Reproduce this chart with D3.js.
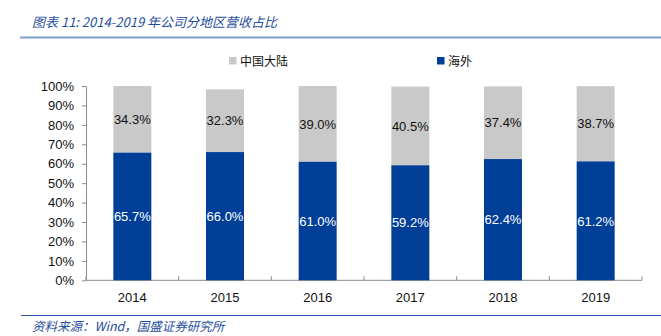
<!DOCTYPE html>
<html>
<head>
<meta charset="utf-8">
<script src="https://cdn.jsdelivr.net/npm/d3@7"></script>
<style>
  html, body { margin: 0; padding: 0; background: #fff; }
  svg { display: block; }
</style>
</head>
<body>
<svg id="chart" width="661" height="336"></svg>
<script>
// Revenue share by region, 2014-2019 (%)
const years = ["2014", "2015", "2016", "2017", "2018", "2019"];
const overseas = [65.7, 66.0, 61.0, 59.2, 62.4, 61.2];
const mainland = [34.3, 32.3, 39.0, 40.5, 37.4, 38.7];
const yTicks = [0, 10, 20, 30, 40, 50, 60, 70, 80, 90, 100];
const seriesNames = ["中国大陆", "海外"];

const colBlue = "#003f98";
const colGray = "#c9c9c9";
const labelFont = "'Liberation Sans', Arial, sans-serif";
const cjkFont = "'Noto Sans CJK SC', sans-serif";

const svg = d3.select("#chart");

// Title and rule beneath it
svg.append("text")
  .attr("x", 32).attr("y", 27)
  .attr("font-family", cjkFont)
  .attr("font-style", "italic")
  .attr("font-size", 13)
  .attr("fill", "#1f4e9c")
  .text("图表 11:  2014-2019 年公司分地区营收占比");
svg.append("line")
  .attr("x1", 20).attr("x2", 661).attr("y1", 37.5).attr("y2", 37.5)
  .attr("stroke", "#7f9fd0").attr("stroke-width", 2);

// Scales
const x = d3.scaleBand().domain(years).range([86, 642]).paddingInner(0.59).paddingOuter(0.295);
const xEdge = d3.scaleLinear().domain([0, years.length]).range([86, 642]);
const y = d3.scaleLinear().domain([0, 100]).range([280.3, 86]);

// Y axis
const yAxis = d3.axisLeft(y).tickValues(yTicks).tickSize(0).tickPadding(12).tickFormat(d => d + "%");
const gy = svg.append("g").attr("transform", "translate(86,0)").call(yAxis);
gy.select(".domain").attr("stroke", "#8c8c8c");
gy.selectAll("text").attr("font-family", labelFont).attr("font-size", 13).attr("fill", "#111");
// small tick marks on the value axis
gy.selectAll(".tick").append("line").attr("x1", -4).attr("x2", 0).attr("stroke", "#8c8c8c");

// X axis: category labels with boundary ticks
const gx = svg.append("g").attr("transform", "translate(0,280.3)");
gx.append("line").attr("x1", 86).attr("x2", 642).attr("stroke", "#8c8c8c");
gx.selectAll("line.edge").data(d3.range(years.length + 1)).join("line")
  .attr("class", "edge")
  .attr("x1", d => xEdge(d)).attr("x2", d => xEdge(d))
  .attr("y1", 0).attr("y2", -4)
  .attr("stroke", "#8c8c8c");
gx.selectAll("text").data(years).join("text")
  .attr("x", d => x(d) + x.bandwidth() / 2)
  .attr("y", 22)
  .attr("text-anchor", "middle")
  .attr("font-family", labelFont)
  .attr("font-size", 13)
  .attr("fill", "#111")
  .text(d => d);

// Stacked bars
const rows = years.map((yr, i) => ({ yr, o: overseas[i], m: mainland[i] }));
const bars = svg.append("g");
bars.selectAll("rect.m").data(rows).join("rect")
  .attr("class", "m")
  .attr("x", d => x(d.yr)).attr("width", x.bandwidth())
  .attr("y", d => y(d.o + d.m)).attr("height", d => y(d.o) - y(d.o + d.m))
  .attr("fill", colGray);
bars.selectAll("rect.o").data(rows).join("rect")
  .attr("class", "o")
  .attr("x", d => x(d.yr)).attr("width", x.bandwidth())
  .attr("y", d => y(d.o)).attr("height", d => y(0) - y(d.o))
  .attr("fill", colBlue);

// Value labels
bars.selectAll("text.m").data(rows).join("text")
  .attr("class", "m")
  .attr("x", d => x(d.yr) + x.bandwidth() / 2)
  .attr("y", d => y(d.o + d.m / 2))
  .attr("dy", "0.36em")
  .attr("text-anchor", "middle")
  .attr("font-family", labelFont).attr("font-size", 13)
  .attr("fill", "#111")
  .text(d => d.m.toFixed(1) + "%");
bars.selectAll("text.o").data(rows).join("text")
  .attr("class", "o")
  .attr("x", d => x(d.yr) + x.bandwidth() / 2)
  .attr("y", d => y(d.o / 2))
  .attr("dy", "0.36em")
  .attr("text-anchor", "middle")
  .attr("font-family", labelFont).attr("font-size", 13)
  .attr("fill", "#fff")
  .text(d => d.o.toFixed(1) + "%");

// Legend
const legend = svg.append("g");
const legendItems = [
  { name: seriesNames[0], color: colGray, x: 229 },
  { name: seriesNames[1], color: colBlue, x: 437 }
];
legend.selectAll("rect").data(legendItems).join("rect")
  .attr("x", d => d.x).attr("y", 57).attr("width", 7.5).attr("height", 7.5)
  .attr("fill", d => d.color);
legend.selectAll("text").data(legendItems).join("text")
  .attr("x", d => d.x + 11).attr("y", 65.5)
  .attr("font-family", cjkFont).attr("font-size", 12)
  .attr("fill", "#111")
  .text(d => d.name);

// Source footer
svg.append("line")
  .attr("x1", 21).attr("x2", 661).attr("y1", 315.5).attr("y2", 315.5)
  .attr("stroke", "#2f5ca8").attr("stroke-width", 1);
svg.append("text")
  .attr("x", 32).attr("y", 331)
  .attr("font-family", cjkFont)
  .attr("font-style", "italic")
  .attr("font-size", 12.5)
  .attr("fill", "#1f4e9c")
  .text("资料来源：Wind，国盛证券研究所");
</script>
</body>
</html>
